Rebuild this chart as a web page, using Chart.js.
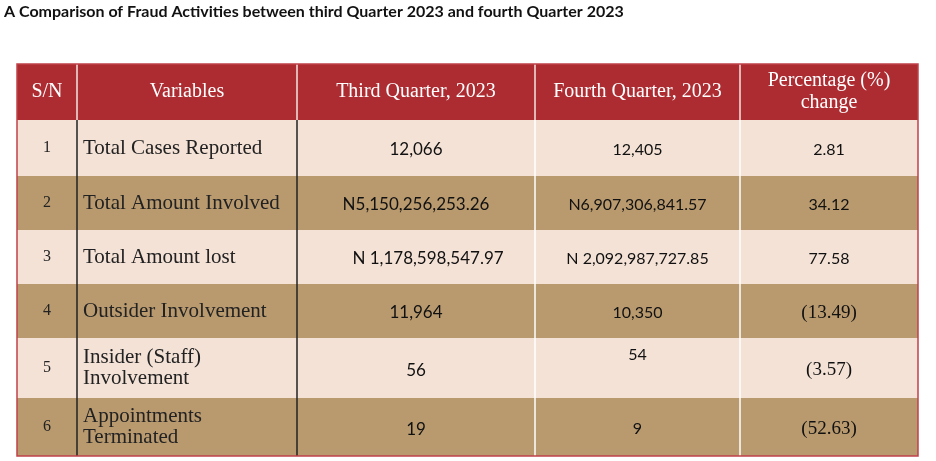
<!DOCTYPE html>
<html>
<head>
<meta charset="utf-8">
<script src="https://cdn.jsdelivr.net/npm/chart.js@4"></script>
<style>
  html, body { margin: 0; padding: 0; background: #fff; }
  #wrap { width: 936px; height: 461px; position: relative; }
</style>
</head>
<body>
<div id="wrap"><canvas id="tableChart"></canvas></div>
<script>
const title = 'A Comparison of Fraud Activities between third Quarter 2023 and fourth Quarter 2023';
const headers = ['S/N', 'Variables', 'Third Quarter, 2023', 'Fourth Quarter, 2023', ['Percentage (%)', 'change']];
const serials = ['1', '2', '3', '4', '5', '6'];
const variables = [['Total Cases Reported'], ['Total Amount Involved'], ['Total Amount lost'], ['Outsider Involvement'], ['Insider (Staff)', 'Involvement'], ['Appointments', 'Terminated']];
const thirdQuarter = ['12,066', 'N5,150,256,253.26', 'N 1,178,598,547.97', '11,964', '56', '19'];
const fourthQuarter = ['12,405', 'N6,907,306,841.57', 'N 2,092,987,727.85', '10,350', '54', '9'];
const pctChange = ['2.81', '34.12', '77.58', '(13.49)', '(3.57)', '(52.63)'];

// layout (scale units)
const colEdges = [17, 77, 297, 535, 740, 918];
const rowEdges = [64, 120, 176, 230, 284, 338, 398, 456];

document.addEventListener('DOMContentLoaded', function() {
    const ctx = document.getElementById('tableChart').getContext('2d');
    const serif = '"Liberation Serif", "Times New Roman", serif';
    const sans = 'Lato, "Noto Sans", sans-serif';

    const tablePlugin = {
        id: 'tablePlugin',
        beforeDatasetsDraw(chart) {
            const c = chart.ctx;
            const xs = chart.scales.x, ys = chart.scales.y;
            const X = v => xs.getPixelForValue(v);
            const Y = v => ys.getPixelForValue(v);
            c.save();
            // title
            c.fillStyle = '#111';
            c.font = 'bold 16px ' + sans;
            c.textBaseline = 'middle';
            c.textAlign = 'left';
            c.fillText(title, X(4), Y(12));

            // row backgrounds
            for (let r = 0; r < rowEdges.length - 1; r++) {
                c.fillStyle = r === 0 ? '#ad2c32' : (r % 2 === 1 ? '#f4e2d6' : '#b99a6f');
                c.fillRect(X(colEdges[0]), Y(rowEdges[r]), X(colEdges[5]) - X(colEdges[0]), Y(rowEdges[r + 1]) - Y(rowEdges[r]));
            }
            // vertical lines
            for (let i = 1; i < colEdges.length - 1; i++) {
                c.strokeStyle = '#f5e5e0';
                c.lineWidth = 1.5;
                c.beginPath(); c.moveTo(X(colEdges[i]), Y(rowEdges[0])); c.lineTo(X(colEdges[i]), Y(rowEdges[1])); c.stroke();
                c.strokeStyle = i <= 2 ? '#222' : '#fff';
                c.beginPath(); c.moveTo(X(colEdges[i]), Y(rowEdges[1])); c.lineTo(X(colEdges[i]), Y(rowEdges[7])); c.stroke();
            }
            // outer border
            c.strokeStyle = '#c0404a';
            c.lineWidth = 1.5;
            c.strokeRect(X(colEdges[0]), Y(rowEdges[0]), X(colEdges[5]) - X(colEdges[0]), Y(rowEdges[7]) - Y(rowEdges[0]));

            const lines = (arr, x, yc, align, font, color, lh) => {
                c.font = font; c.fillStyle = color; c.textAlign = align;
                const n = arr.length;
                arr.forEach((t, i) => c.fillText(t, x, yc + (i - (n - 1) / 2) * lh));
            };
            // header
            headers.forEach((h, i) => {
                const xc = (X(colEdges[i]) + X(colEdges[i + 1])) / 2;
                const yc = (Y(rowEdges[0]) + Y(rowEdges[1])) / 2;
                lines(Array.isArray(h) ? h : [h], xc, yc, 'center', '20px ' + serif, '#fff', 22);
            });
            // body
            for (let r = 0; r < serials.length; r++) {
                const yc = (Y(rowEdges[r + 1]) + Y(rowEdges[r + 2])) / 2;
                const multi = variables[r].length > 1;
                lines([serials[r]], (X(colEdges[0]) + X(colEdges[1])) / 2, yc, 'center', '16px ' + serif, '#222', 20);
                lines(variables[r], X(colEdges[1]) + 6, yc, 'left', '21px ' + serif, '#222', 21);
                lines([thirdQuarter[r]], (X(colEdges[2]) + X(colEdges[3])) / 2 + (r === 2 ? 12 : 0), yc + (multi ? 3 : 2), 'center', '17px ' + sans, '#111', 20);
                lines([fourthQuarter[r]], (X(colEdges[3]) + X(colEdges[4])) / 2, yc + (r === 4 ? -13 : 2), 'center', '16px ' + sans, '#111', 20);
                lines([pctChange[r]], (X(colEdges[4]) + X(colEdges[5])) / 2, yc + 2, 'center', (r >= 3 ? '19px ' + serif : '16px ' + sans), '#111', 20);
            }
            c.restore();
        }
    };

    new Chart(ctx, {
        type: 'scatter',
        data: { datasets: [{ data: [] }] },
        options: {
            responsive: true,
            maintainAspectRatio: false,
            animation: false,
            layout: { padding: 0 },
            scales: {
                x: { type: 'linear', min: 0, max: 936, display: false },
                y: { type: 'linear', min: 0, max: 461, reverse: true, display: false }
            },
            plugins: { legend: { display: false }, tooltip: { enabled: false } }
        },
        plugins: [tablePlugin]
    });
});
</script>
</body>
</html>
